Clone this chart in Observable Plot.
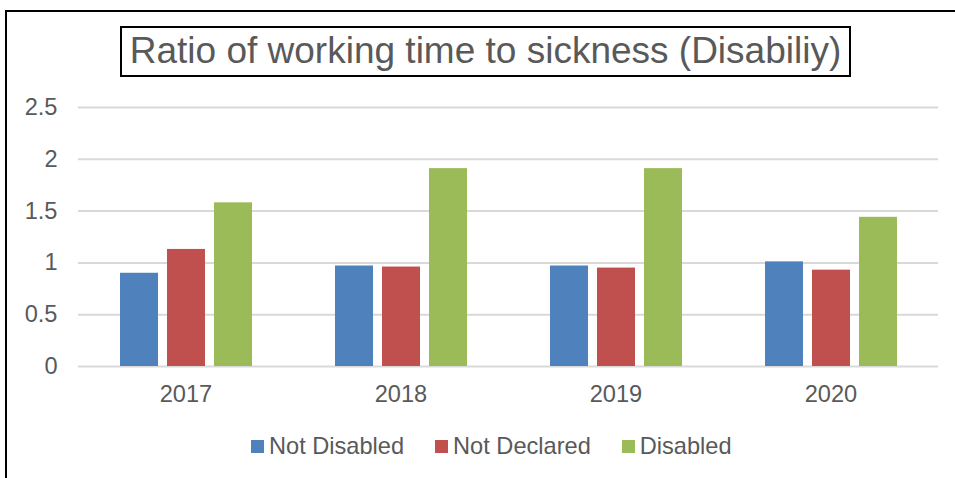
<!DOCTYPE html>
<html>
<head>
<meta charset="utf-8">
<script src="https://cdn.jsdelivr.net/npm/d3@7"></script>
<script src="https://cdn.jsdelivr.net/npm/@observablehq/plot@0.6"></script>
<style>
  html, body { margin: 0; padding: 0; background: #fff; }
  body { width: 955px; height: 478px; position: relative; overflow: hidden;
         font-family: "Liberation Sans", Arial, sans-serif; color: #595959; }
  #frame { position: absolute; left: 5px; top: 10px; width: 1000px; height: 500px;
           border-left: 2px solid #000; border-top: 2px solid #000; }
  #title { position: absolute; left: 120px; top: 26px; width: 731px; height: 51px;
           box-sizing: border-box; border: 2px solid #000; text-align: center;
           font-size: 37px; line-height: 45px; color: #595959; white-space: nowrap; }
  #chart { position: absolute; left: 0; top: 90px; }
  #legend { position: absolute; left: 251px; top: 434px; display: flex; align-items: center;
            font-size: 23.6px; line-height: 24px; color: #595959; white-space: nowrap; }
  .item { display: flex; align-items: center; margin-right: 31px; }
  .sw { width: 13px; height: 13px; margin-right: 5px; }
</style>
</head>
<body>
<div id="frame"></div>
<div id="title"></div>
<div id="chart"></div>
<div id="legend"></div>
<script>
const titleText = "Ratio of working time to sickness (Disabiliy)";
const years = ["2017", "2018", "2019", "2020"];
const seriesNames = ["Not Disabled", "Not Declared", "Disabled"];
const seriesColors = ["#4F81BD", "#C0504D", "#9BBB59"];
const notDisabled = [0.90, 0.97, 0.97, 1.01];
const notDeclared = [1.13, 0.96, 0.95, 0.93];
const disabled = [1.58, 1.91, 1.91, 1.44];
const yTicks = [0, 0.5, 1, 1.5, 2, 2.5];

const seriesValues = [notDisabled, notDeclared, disabled];
const data = [];
years.forEach((yr, i) => {
  seriesNames.forEach((s, j) => data.push({year: yr, series: s, value: seriesValues[j][i]}));
});

document.getElementById("title").textContent = titleText;

const chart = Plot.plot({
  width: 955,
  height: 330,
  marginTop: 17,
  marginBottom: 54,
  marginLeft: 78,
  marginRight: 17,
  style: {fontFamily: "'Liberation Sans', Arial, sans-serif", fontSize: "23.6px", color: "#595959", background: "transparent"},
  fx: {domain: years, paddingInner: 0, paddingOuter: 0},
  x: {domain: seriesNames, paddingInner: 0.2, paddingOuter: 0.863},
  y: {domain: [0, 2.5]},
  color: {domain: seriesNames, range: seriesColors},
  marks: [
    Plot.ruleY(yTicks, {stroke: "#D9D9D9", strokeWidth: 2}),
    Plot.barY(data, {fx: "year", x: "series", y: "value", fill: "series"}),
    Plot.axisY(yTicks, {tickSize: 0, tickPadding: 21, tickFormat: d => String(d), label: null}),
    Plot.axisFx({anchor: "bottom", tickSize: 0, tickPadding: 19, label: null}),
    Plot.axisX({ticks: [], label: null})
  ]
});
document.getElementById("chart").appendChild(chart);

const legend = document.getElementById("legend");
seriesNames.forEach((s, j) => {
  const it = document.createElement("div");
  it.className = "item";
  const sw = document.createElement("div");
  sw.className = "sw";
  sw.style.background = seriesColors[j];
  const tx = document.createElement("span");
  tx.textContent = s;
  it.appendChild(sw); it.appendChild(tx);
  legend.appendChild(it);
});
</script>
</body>
</html>
